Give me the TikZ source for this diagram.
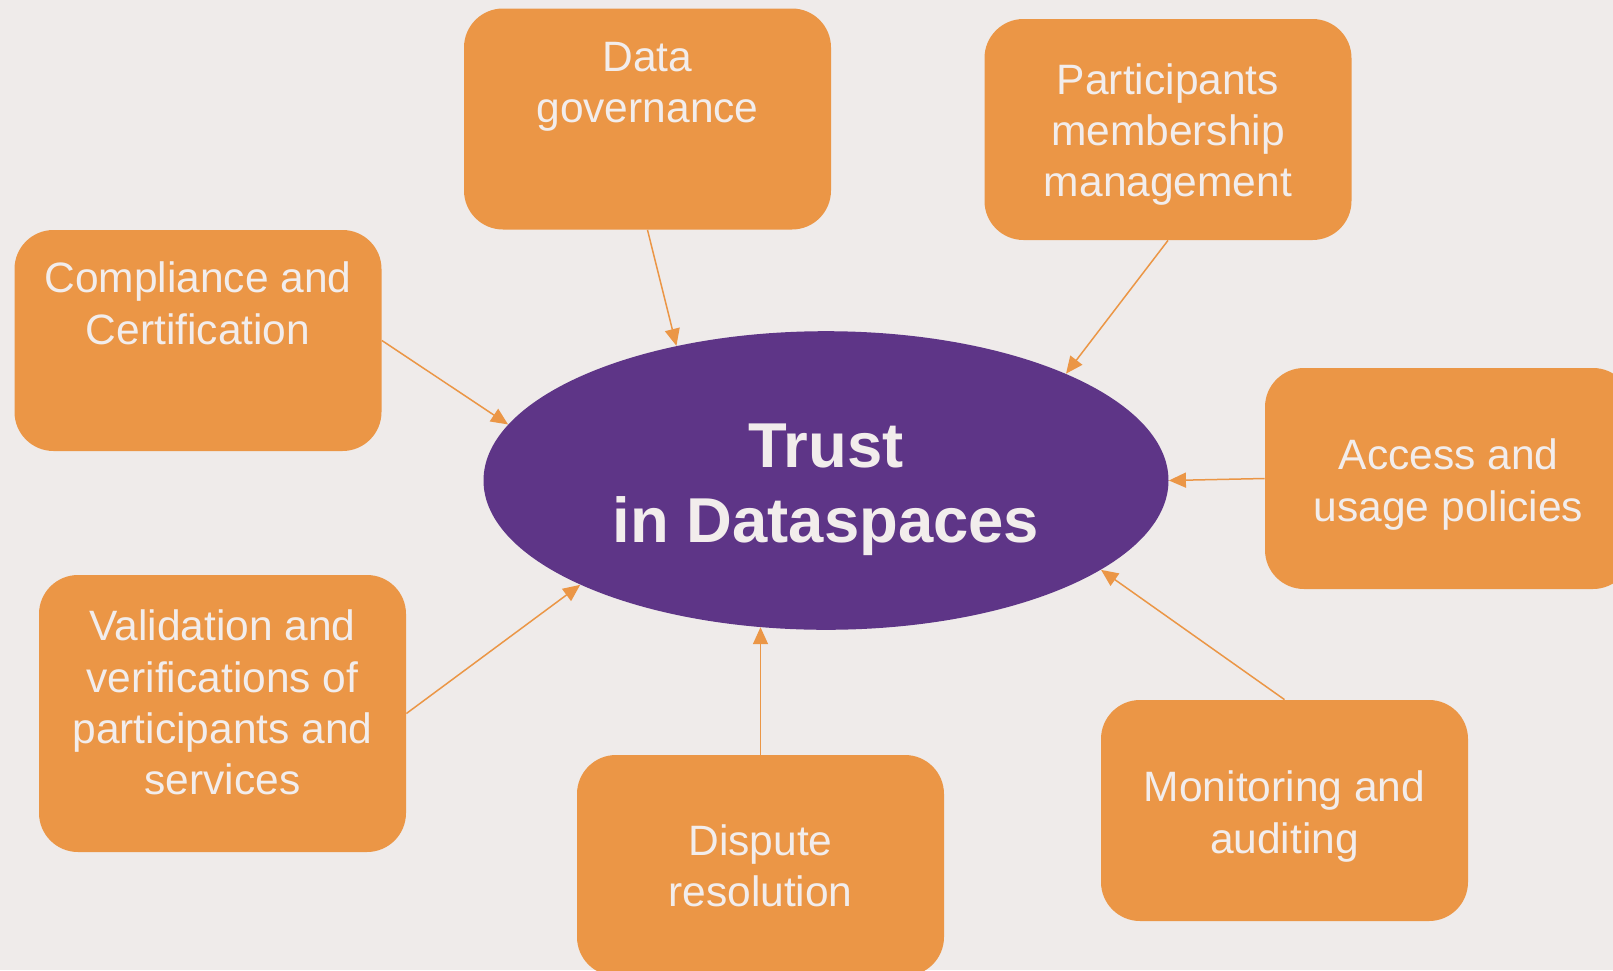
\documentclass[tikz,border=0pt]{standalone}
\usepackage{fontspec}
\setmainfont{Liberation Sans}
\usetikzlibrary{shapes.geometric,arrows.meta}
\definecolor{bg}{RGB}{239,235,234}
\definecolor{orangebox}{RGB}{235,150,70}
\definecolor{purplecore}{RGB}{94,53,135}
\definecolor{lighttext}{RGB}{242,237,236}

\begin{document}
\begin{tikzpicture}[x=0.5pt,y=-0.5pt,
  topic/.style={fill=orangebox, rounded corners=19.5pt, minimum width=183.5pt,
    minimum height=110.5pt, inner sep=0pt},
  topictext/.style={text=lighttext, align=center, inner sep=0pt,
    font=\fontsize{21.25pt}{25.7pt}\selectfont},
  core/.style={ellipse, fill=purplecore, minimum width=342.5pt, minimum height=149.3pt,
    inner sep=0pt},
  coretext/.style={text=lighttext, align=center, inner sep=0pt,
    font=\bfseries\fontsize{31.7pt}{37.5pt}\selectfont},
  link/.style={draw=orangebox, line width=0.75pt, -{Triangle[length=8.5pt,width=7.5pt]}},
]
\useasboundingbox (0,0) rectangle (1613,970);
\fill[bg] (0,0) rectangle (1613,970);
\clip (0,0) rectangle (1613,970);

% central concept
\node[core] (trust) at (826,480.5) {};
\node[coretext] (trust-t) at ([yshift=-4.6pt]trust.center) {Trust\\in Dataspaces};

% surrounding topics
\node[topic] (gov)  at (647.5,119)   {};
\node[topic] (part) at (1168,129.5)  {};
\node[topic] (comp) at (198,340.5)   {};
\node[topic] (acc)  at (1448.5,478.5) {};
\node[topic, minimum height=138.5pt] (val) at (222.5,713.5) {};
\node[topic] (disp) at (760.5,865.5) {};
\node[topic] (mon)  at (1284.5,810.5) {};

% topic labels
\node[topictext] (gov-t)  at ([yshift=16pt]gov.center)    {Data\\governance};
\node[topictext] (part-t) at ([yshift=-2.5pt]part.center) {Participants\\membership\\management};
\node[topictext] (comp-t) at ([yshift=18.5pt]comp.center) {Compliance and\\Certification};
\node[topictext] (acc-t)  at ([yshift=-3pt]acc.center)    {Access and\\usage policies};
\node[topictext] (val-t)  at ([yshift=5.5pt]val.center)   {Validation and\\verifications of\\participants and\\services};
\node[topictext] (disp-t) at (disp.center) {Dispute\\resolution};
\node[topictext] (mon-t)  at ([yshift=-3pt]mon.center)    {Monitoring and\\auditing};

% connectors into the centre
\draw[link] (gov.south)  -- (trust.138);
\draw[link] (part.south) -- (trust.24);
\draw[link] (comp.east)  -- (trust.170.4);
\draw[link] (acc.west)   -- (trust.0);
\draw[link] (val.east)   -- (trust.203.7);
\draw[link] (disp.north) -- (disp.north |- trust.245);
\draw[link] (mon.north)  -- (trust.342.6);
\end{tikzpicture}
\end{document}
